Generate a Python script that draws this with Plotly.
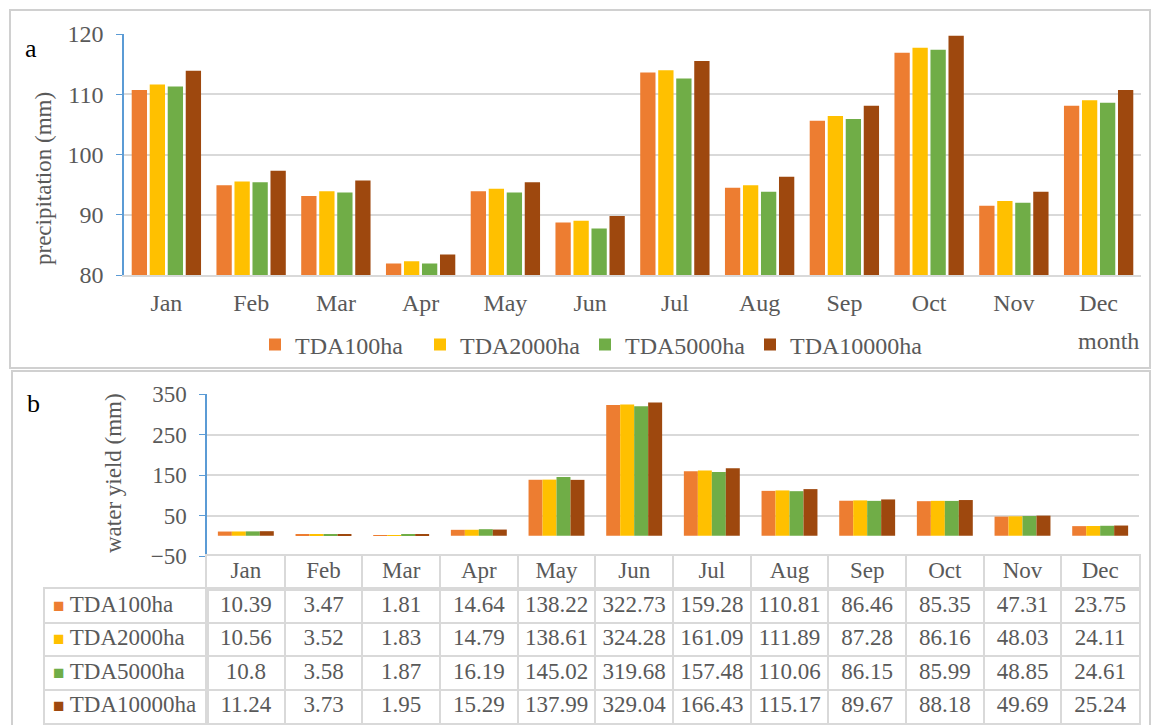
import plotly.graph_objects as go

W, H = 1156, 725

months = ["Jan", "Feb", "Mar", "Apr", "May", "Jun",
          "Jul", "Aug", "Sep", "Oct", "Nov", "Dec"]
series = ["TDA100ha", "TDA2000ha", "TDA5000ha", "TDA10000ha"]
colors = ["#ED7D31", "#FFC000", "#70AD47", "#9E480E"]

# panel a: precipitation (mm)
prec_100 = [110.7, 94.9, 93.1, 81.9, 93.9, 88.7, 113.6, 94.5, 105.6, 116.9, 91.5, 108.1]
prec_2000 = [111.6, 95.5, 93.9, 82.3, 94.3, 89.0, 114.0, 94.9, 106.4, 117.7, 92.3, 109.0]
prec_5000 = [111.3, 95.4, 93.7, 81.9, 93.7, 87.7, 112.6, 93.8, 105.9, 117.4, 92.0, 108.6]
prec_10000 = [113.9, 97.3, 95.7, 83.4, 95.4, 89.8, 115.5, 96.3, 108.1, 119.7, 93.8, 110.7]

# panel b: water yield (mm), from the data table
wy_100 = [10.39, 3.47, 1.81, 14.64, 138.22, 322.73, 159.28, 110.81, 86.46, 85.35, 47.31, 23.75]
wy_2000 = [10.56, 3.52, 1.83, 14.79, 138.61, 324.28, 161.09, 111.89, 87.28, 86.16, 48.03, 24.11]
wy_5000 = [10.8, 3.58, 1.87, 16.19, 145.02, 319.68, 157.48, 110.06, 86.15, 85.99, 48.85, 24.61]
wy_10000 = [11.24, 3.73, 1.95, 15.29, 137.99, 329.04, 166.43, 115.17, 89.67, 88.18, 49.69, 25.24]

prec = [prec_100, prec_2000, prec_5000, prec_10000]
wy = [wy_100, wy_2000, wy_5000, wy_10000]

FONT = "Liberation Serif, Times New Roman, serif"
TXT = "#595959"
GRID = "#D9D9D9"
AXBLUE = "#5B9BD5"


def px(x):
    return x / W


def py(y):
    return 1 - y / H


fig = go.Figure()

for name, col, vals in zip(series, colors, prec):
    fig.add_trace(go.Bar(x=months, y=vals, name=name, marker_color=col,
                         marker_line_width=0, xaxis="x", yaxis="y"))

# empty legend slot so the last fixed-width entry is not clipped
fig.add_trace(go.Scatter(x=[None], y=[None], mode="markers", name=" ",
                         marker=dict(color="rgba(0,0,0,0)", size=1),
                         xaxis="x", yaxis="y", hoverinfo="skip"))

# panel b bars touch each other inside a group
bw = 0.18
for k, (name, col, vals) in enumerate(zip(series, colors, wy)):
    fig.add_trace(go.Bar(x=months, y=vals, name=name, marker_color=col,
                         marker_line_width=0, xaxis="x2", yaxis="y2",
                         width=bw, offset=-2 * bw + k * bw, showlegend=False))

# data table under panel b, built on category axes whose grid lines are the cell borders
tfont = dict(family=FONT, size=23, color=TXT)
fig.add_trace(go.Scatter(x=months, y=["month"] * 12, text=months, mode="text",
                         textfont=tfont, xaxis="x3", yaxis="y3",
                         showlegend=False, hoverinfo="skip"))
for name, vals in zip(series, wy):
    fig.add_trace(go.Scatter(x=months, y=[name] * 12, text=[str(v) for v in vals],
                             mode="text", textfont=tfont, xaxis="x4", yaxis="y4",
                             showlegend=False, hoverinfo="skip"))
labels = [f'<span style="color:{c};font-size:19px">■</span> {s}'
          for s, c in zip(series, colors)]
fig.add_trace(go.Scatter(x=[0] * 4, y=series, text=labels, mode="text",
                         textposition="middle right", textfont=tfont,
                         xaxis="x5", yaxis="y5", showlegend=False,
                         hoverinfo="skip", cliponaxis=False))

cell_x = dict(type="category", categoryarray=months, range=[-0.5, 11.5],
              tickson="boundaries", showgrid=True, gridcolor=GRID, gridwidth=1.5,
              showline=True, mirror=True, linecolor=GRID, linewidth=1.5,
              showticklabels=False, ticks="", zeroline=False,
              domain=[px(207), px(1139)])
cell_rows = dict(type="category", categoryarray=series, range=[3.5, -0.5],
                 tickson="boundaries", showgrid=True, gridcolor=GRID, gridwidth=1.5,
                 showline=True, mirror=True, linecolor=GRID, linewidth=1.5,
                 showticklabels=False, ticks="", zeroline=False,
                 domain=[py(723), py(589)])

fig.update_layout(
    width=W, height=H,
    margin=dict(l=0, r=0, t=0, b=0, autoexpand=False),
    paper_bgcolor="white", plot_bgcolor="white",
    font=dict(family=FONT, color=TXT, size=24),
    barmode="group", bargap=0.15, bargroupgap=0.15,
    showlegend=True,
    legend=dict(orientation="h", x=px(255), xanchor="left",
                y=py(345), yanchor="middle",
                font=dict(family=FONT, size=24, color=TXT),
                entrywidth=120, bgcolor="rgba(0,0,0,0)"),
    xaxis=dict(domain=[px(124), px(1141)], showline=True, linecolor=GRID,
               linewidth=1.5, ticks="", ticklabelstandoff=5,
               tickfont=dict(family=FONT, size=24, color=TXT),
               anchor="y"),
    yaxis=dict(domain=[py(275), py(34)], range=[80, 120], dtick=10,
               showline=True, linecolor=AXBLUE, linewidth=1.5,
               ticks="outside", ticklen=6, tickcolor=AXBLUE,
               gridcolor=GRID, gridwidth=1.5, zeroline=False,
               ticklabelstandoff=8,
               tickfont=dict(family=FONT, size=24, color=TXT),
               anchor="x"),
    xaxis2=dict(domain=[px(207), px(1139)], showline=False, ticks="",
                showticklabels=False, anchor="y2"),
    yaxis2=dict(domain=[py(556), py(394)], range=[-50, 350],
                tickvals=[-50, 50, 150, 250, 350],
                showline=True, linecolor=AXBLUE, linewidth=1.5,
                ticks="outside", ticklen=6, tickcolor=AXBLUE,
                gridcolor=GRID, gridwidth=1.5, zeroline=False,
                ticklabelstandoff=8,
                tickfont=dict(family=FONT, size=23, color=TXT),
                anchor="x2"),
    xaxis3=dict(cell_x, anchor="y3"),
    yaxis3=dict(type="category", categoryarray=["month"], range=[-0.5, 0.5],
                showgrid=False, showline=True, mirror=True, linecolor=GRID,
                linewidth=1.5, showticklabels=False, ticks="", zeroline=False,
                domain=[py(589), py(556)], anchor="x3"),
    xaxis4=dict(cell_x, anchor="y4"),
    yaxis4=dict(cell_rows, anchor="x4"),
    xaxis5=dict(range=[-0.052, 1], showgrid=False, showline=True, mirror=True,
                linecolor=GRID, linewidth=1.5, showticklabels=False, ticks="",
                zeroline=False, domain=[px(45), px(207)], anchor="y5"),
    yaxis5=dict(cell_rows, anchor="x5"),
)


def note(text, x, y, size=23, color=TXT, angle=0):
    return dict(text=text, x=px(x), y=py(y), xref="paper", yref="paper",
                xanchor="center", yanchor="middle", textangle=angle,
                showarrow=False, font=dict(family=FONT, size=size, color=color))


fig.update_layout(
    shapes=[
        dict(type="rect", xref="paper", yref="paper",
             x0=px(10), x1=px(1150), y0=py(368), y1=py(10),
             line=dict(color="#D0D0D0", width=2), layer="below"),
        dict(type="rect", xref="paper", yref="paper",
             x0=px(12), x1=px(1150), y0=py(735), y1=py(371),
             line=dict(color="#D0D0D0", width=2), layer="below"),
    ],
    annotations=[
        note("a", 31, 49, size=26, color="black"),
        note("b", 33, 404, size=26, color="black"),
        note("precipitation (mm)", 43, 179, angle=-90),
        note("water yield (mm)", 113, 473, angle=-90),
        note("month", 1108, 341, size=24),
    ],
)

pin = ("document.body.style.margin='0';"
       "document.body.style.overflow='hidden';"
       "var d=document.getElementById('{plot_id}');"
       "d.style.position='absolute';d.style.left='0px';d.style.top='0px';")

fig.write_html("out.html", post_script=pin, config={"displayModeBar": False})
